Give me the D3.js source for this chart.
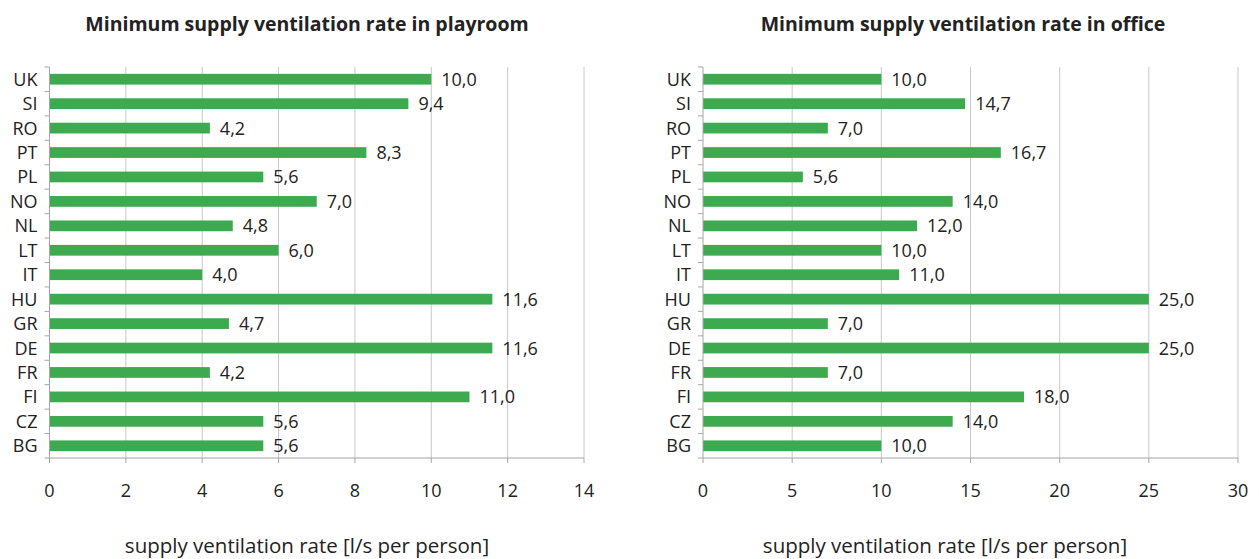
<!DOCTYPE html>
<html><head><meta charset="utf-8">
<script src="https://cdn.jsdelivr.net/npm/d3@7"></script>
<style>body{margin:0;background:#fff}svg text{font-family:"Open Sans",sans-serif;fill:#222}</style>
</head><body><svg id="c" width="1259" height="559"></svg>
<script>
const countries = ["UK","SI","RO","PT","PL","NO","NL","LT","IT","HU","GR","DE","FR","FI","CZ","BG"];
const playroom = [10.0,9.4,4.2,8.3,5.6,7.0,4.8,6.0,4.0,11.6,4.7,11.6,4.2,11.0,5.6,5.6];
const office = [10.0,14.7,7.0,16.7,5.6,14.0,12.0,10.0,11.0,25.0,7.0,25.0,7.0,18.0,14.0,10.0];
const playroomTicks = [0,2,4,6,8,10,12,14];
const officeTicks = [0,5,10,15,20,25,30];
const titles = ["Minimum supply ventilation rate in playroom","Minimum supply ventilation rate in office"];
const axisTitle = "supply ventilation rate [l/s per person]";

const svg = d3.select("#c");
const color = "#3DAA50";
function panel(x0, x1, values, ticks, title, titleX, axisTitleX){
  const g = svg.append("g");
  const x = d3.scaleLinear().domain([0, ticks[ticks.length-1]]).range([x0, x1]);
  const y = d3.scaleBand().domain(countries).range([67, 458]).paddingInner(0.56).paddingOuter(0.28);
  g.selectAll(".grid").data(ticks.slice(1)).join("line")
    .attr("x1", d=>x(d)).attr("x2", d=>x(d)).attr("y1", 67).attr("y2", 458)
    .attr("stroke", "#c8c8c8").attr("stroke-width", 1);
  g.selectAll("rect").data(values).join("rect")
    .attr("x", x(0)).attr("y", (d,i)=>y(countries[i]))
    .attr("width", d=>x(d)-x(0)).attr("height", y.bandwidth()).attr("fill", color);
  g.selectAll(".val").data(values).join("text")
    .attr("x", d=>x(d)+10).attr("y", (d,i)=>y(countries[i])+y.bandwidth()/2)
    .attr("dy","0.36em").attr("font-size", 18)
    .text(d=>d.toFixed(1).replace(".", ","));
  const step = (458-67)/countries.length;
  g.append("line").attr("x1", x0).attr("x2", x0).attr("y1", 67).attr("y2", 458).attr("stroke","#a6a6a6");
  g.selectAll(".yt").data(d3.range(countries.length+1)).join("line")
    .attr("x1", x0-5).attr("x2", x0).attr("y1", i=>67+i*step).attr("y2", i=>67+i*step).attr("stroke","#a6a6a6");
  g.selectAll(".cat").data(countries).join("text")
    .attr("x", x0-12).attr("y", d=>y(d)+y.bandwidth()/2).attr("dy","0.36em")
    .attr("text-anchor","end").attr("font-size", 18).text(d=>d);
  g.append("line").attr("x1", x0).attr("x2", x1).attr("y1", 458).attr("y2", 458).attr("stroke","#a6a6a6");
  g.selectAll(".xt").data(ticks).join("line")
    .attr("x1", d=>x(d)).attr("x2", d=>x(d)).attr("y1", 458).attr("y2", 463).attr("stroke","#a6a6a6");
  g.selectAll(".xl").data(ticks).join("text")
    .attr("x", d=>x(d)).attr("y", 491).attr("dy","0.36em").attr("text-anchor","middle")
    .attr("font-size", 18).text(d=>d);
  g.append("text").attr("x", axisTitleX).attr("y", 546).attr("dy","0.36em").attr("text-anchor","middle")
    .attr("font-size", 20.5).text(axisTitle);
  g.append("text").attr("x", titleX).attr("y", 24).attr("dy","0.36em").attr("text-anchor","middle")
    .attr("font-size", 19.5).attr("font-weight","bold").text(title);
}
panel(49.5, 584, playroom, playroomTicks, titles[0], 307, 307);
panel(703, 1238, office, officeTicks, titles[1], 963, 945);
</script></body></html>
